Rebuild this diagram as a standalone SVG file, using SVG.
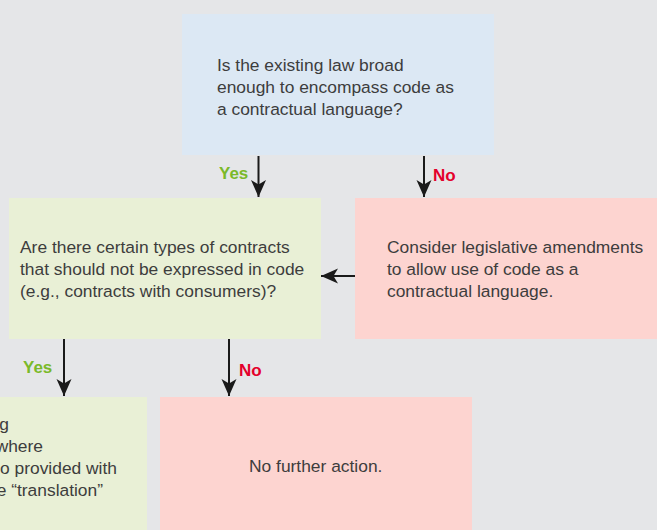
<svg xmlns="http://www.w3.org/2000/svg" width="657" height="530" viewBox="0 0 657 530">
  <style>
    .txt { font-family: "Liberation Sans", Arial, Helvetica, sans-serif; font-size: 17.4px; fill: #3d3d3d; }
    .yes { font-family: "Liberation Sans", Arial, Helvetica, sans-serif; font-size: 17px; font-weight: bold; fill: #7ab929; }
    .no { font-family: "Liberation Sans", Arial, Helvetica, sans-serif; font-size: 17px; font-weight: bold; fill: #e4002b; }
    .blue { fill: #dce8f4; }
    .green { fill: #e9f0d6; }
    .pink { fill: #fdd4d0; }
    .conn { stroke: #1a1a1a; stroke-width: 2; fill: none; marker-end: url(#head); }
  </style>
  <defs>
    <marker id="head" markerUnits="userSpaceOnUse" viewBox="-18 -8 19 16" refX="0" refY="0" markerWidth="19" markerHeight="16" orient="auto">
      <path d="M0,0 L-17,-7.5 L-12.5,0 L-17,7.5 Z" fill="#1a1a1a"/>
    </marker>
  </defs>

  <rect x="0" y="0" width="657" height="530" fill="#e5e6e8"/>

  <g id="q-existing-law">
    <rect class="blue" x="182" y="14" width="312" height="141"/>
    <text class="txt" x="217" y="71">Is the existing law broad</text>
    <text class="txt" x="217" y="93">enough to encompass code as</text>
    <text class="txt" x="217" y="115">a contractual language?</text>
  </g>

  <g id="q-contract-types">
    <rect class="green" x="9" y="198" width="312" height="141"/>
    <text class="txt" x="20" y="253">Are there certain types of contracts</text>
    <text class="txt" x="20" y="275">that should not be expressed in code</text>
    <text class="txt" x="20" y="297">(e.g., contracts with consumers)?</text>
  </g>

  <g id="a-amendments">
    <rect class="pink" x="355" y="198" width="302" height="141"/>
    <text class="txt" x="387" y="253">Consider legislative amendments</text>
    <text class="txt" x="387" y="275">to allow use of code as a</text>
    <text class="txt" x="387" y="297">contractual language.</text>
  </g>

  <g id="a-translation">
    <rect class="green" x="0" y="397" width="147" height="133"/>
    <text class="txt" text-anchor="end" x="9" y="430">g</text>
    <text class="txt" text-anchor="end" x="43" y="452">where</text>
    <text class="txt" text-anchor="end" x="117" y="474">o provided with</text>
    <text class="txt" text-anchor="end" x="103" y="496">e “translation”</text>
  </g>

  <g id="a-no-action">
    <rect class="pink" x="160" y="397" width="312" height="133"/>
    <text class="txt" x="249" y="472">No further action.</text>
  </g>

  <g id="connectors">
    <line class="conn" x1="258.5" y1="156" x2="258.5" y2="197"/>
    <text class="yes" x="219" y="179">Yes</text>
    <line class="conn" x1="424" y1="156" x2="424" y2="197"/>
    <text class="no" x="433" y="181">No</text>
    <line class="conn" x1="355" y1="276" x2="321" y2="276"/>
    <line class="conn" x1="64" y1="339" x2="64" y2="396"/>
    <text class="yes" x="23" y="373">Yes</text>
    <line class="conn" x1="229" y1="339" x2="229" y2="396"/>
    <text class="no" x="239" y="376">No</text>
  </g>
</svg>
